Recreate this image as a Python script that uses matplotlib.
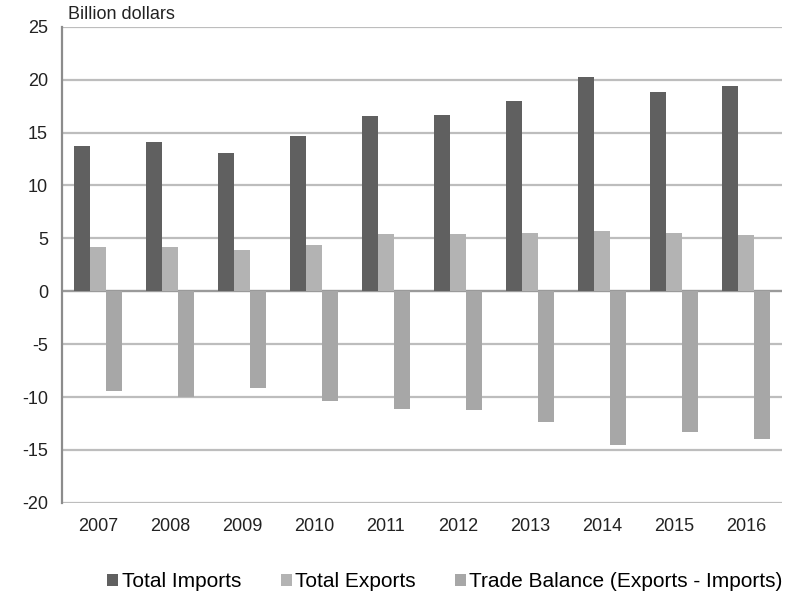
"""US trade chart: imports, exports and trade balance, 2007-2016."""

import matplotlib

matplotlib.use("Agg")
matplotlib.rcParams["font.family"] = ["Liberation Sans", "DejaVu Sans"]
matplotlib.rcParams["axes.unicode_minus"] = False
import matplotlib.pyplot as plt
import numpy as np

years = ["2007", "2008", "2009", "2010", "2011", "2012", "2013", "2014", "2015", "2016"]
imports = [13.7, 14.1, 13.1, 14.7, 16.6, 16.7, 18.0, 20.2, 18.8, 19.4]
exports = [4.2, 4.2, 3.9, 4.4, 5.4, 5.4, 5.5, 5.7, 5.5, 5.3]
balance = [-9.4, -10.0, -9.1, -10.4, -11.1, -11.2, -12.4, -14.5, -13.3, -14.0]

series = (
    ("Total Imports", imports, "#606060"),
    ("Total Exports", exports, "#b3b3b3"),
    ("Trade Balance (Exports - Imports)", balance, "#a7a7a7"),
)

fig = plt.figure(figsize=(7.93, 5.93), dpi=100)
ax = fig.add_axes([0.078, 0.152, 0.908, 0.803])

x = np.arange(len(years))
w = 0.22
for i, (label, vals, color) in enumerate(series):
    ax.bar(x + (i - 1) * w, vals, width=w, color=color, label=label, zorder=3)

ax.set_ylim(-20, 25)
ax.set_yticks(range(-20, 26, 5))
ax.set_xlim(-0.5, len(years) - 0.5)
ax.set_xticks(x)
ax.set_xticklabels(years)
ax.yaxis.grid(True, color="#bdbdbd", linewidth=1.6, zorder=0)
ax.axhline(0, color="#9a9a9a", linewidth=1.6, zorder=2)
for side in ("top", "right", "bottom"):
    ax.spines[side].set_visible(False)
ax.spines["left"].set_color("#8c8c8c")
ax.spines["left"].set_linewidth(1.6)
ax.tick_params(axis="both", length=0, labelsize=13, colors="#222222")
ax.tick_params(axis="x", pad=11)
ax.tick_params(axis="y", pad=10)

fig.text(0.086, 0.962, "Billion dollars", fontsize=13, color="#222222", va="bottom")

ax.legend(loc="center", bbox_to_anchor=(0.532, -0.166), ncol=3, frameon=False,
          fontsize=15, handlelength=0.53, handleheight=0.53, handletextpad=0.15, columnspacing=1.9)

plt.savefig("out.png", dpi=100, facecolor="white")
plt.close(fig)
